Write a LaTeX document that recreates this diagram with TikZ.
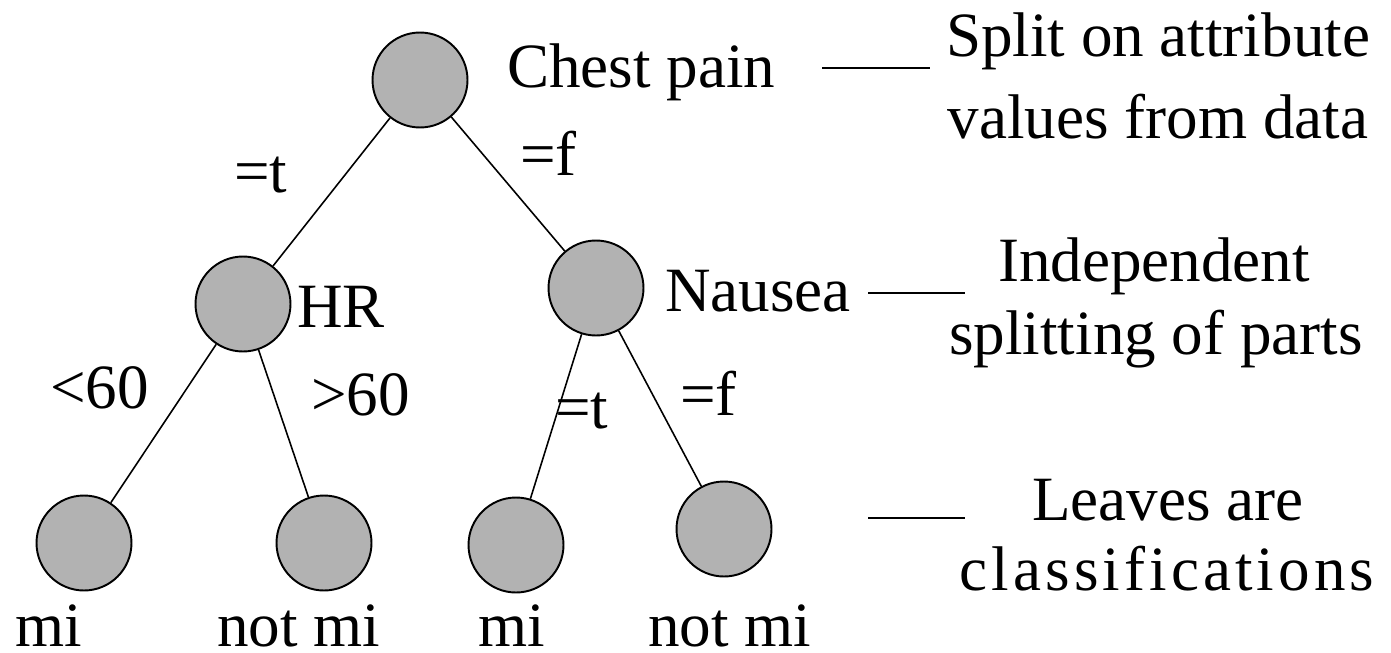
\documentclass[tikz,border=0pt]{standalone}
\usepackage{fontspec}
\setmainfont{Liberation Serif}
\usepackage{xcolor}
\usepackage{tikz}

\definecolor{nodegray}{RGB}{178,178,178}

\tikzset{
  treenode/.style={circle, draw, line width=1.1pt, fill=nodegray,
                   minimum size=1.9cm, inner sep=0pt},
  branch/.style={line width=0.9pt},
  lbl/.style={anchor=base west, inner sep=0pt,
              font=\fontsize{35.9}{43}\selectfont},
  note/.style={anchor=base, inner sep=0pt,
               font=\fontsize{35.9}{43}\selectfont}
}

\begin{document}
\begin{tikzpicture}[x=0.02cm, y=-0.02cm]
    \useasboundingbox (0,0) rectangle (1391,652);

    % Draw the tree nodes
    \node[treenode] (chest) at (420,80) {};
    \node[treenode] (hr) at (243,304) {};
    \node[treenode] (nausea) at (596,288) {};
    \node[treenode] (leafA) at (84,543) {};
    \node[treenode] (leafB) at (324,543) {};
    \node[treenode] (leafC) at (516,545) {};
    \node[treenode] (leafD) at (724,529) {};

    % Draw the branches
    \draw[branch] (chest) -- (hr);
    \draw[branch] (chest) -- (nausea);
    \draw[branch] (hr) -- (leafA);
    \draw[branch] (hr) -- (leafB);
    \draw[branch] (nausea) -- (leafC);
    \draw[branch] (nausea) -- (leafD);

    % Label the attributes
    \node[lbl] (chestlbl) at (507,88) {Chest pain};
    \node[lbl] (hrlbl) at (297,327) {HR};
    \node[lbl] (nausealbl) at (665,311) {Nausea};

    % Label the branch values
    \node[lbl] (chestt) at (234,192) {=t};
    \node[lbl] (chestf) at (520,175) {=f};
    \node[lbl] (hrlow) at (50,408) {<60};
    \node[lbl] (hrhigh) at (311,415) {>60};
    \node[lbl] (nauseat) at (555,428) {=t};
    \node[lbl] (nauseaf) at (680,415) {=f};

    % Label the leaves
    \node[lbl] (classA) at (15,646) {mi};
    \node[lbl] (classB) at (217,646) {not mi};
    \node[lbl] (classC) at (478,646) {mi};
    \node[lbl] (classD) at (648,646) {not mi};

    % Notes on the right
    \node[note] (splitA) at (1158,57) {Split on attribute};
    \node[note] (splitB) at (1158,138) {values from data};
    \node[note] (indepA) at (1154,281) {Independent};
    \node[note] (indepB) at (1156,354) {splitting of parts};
    \node[note] (leavesA) at (1168,520) {Leaves are};
    \node[note] (leavesB) at (1167,590) {\addfontfeatures{LetterSpace=6.5}classifications};

    % Short lines pointing to the notes
    \coordinate (tickA) at (822,68);
    \coordinate (tickB) at (868,293);
    \coordinate (tickC) at (868,518);
    \draw[branch] (tickA) -- ++(108,0);
    \draw[branch] (tickB) -- ++(97,0);
    \draw[branch] (tickC) -- ++(97,0);
\end{tikzpicture}
\end{document}
